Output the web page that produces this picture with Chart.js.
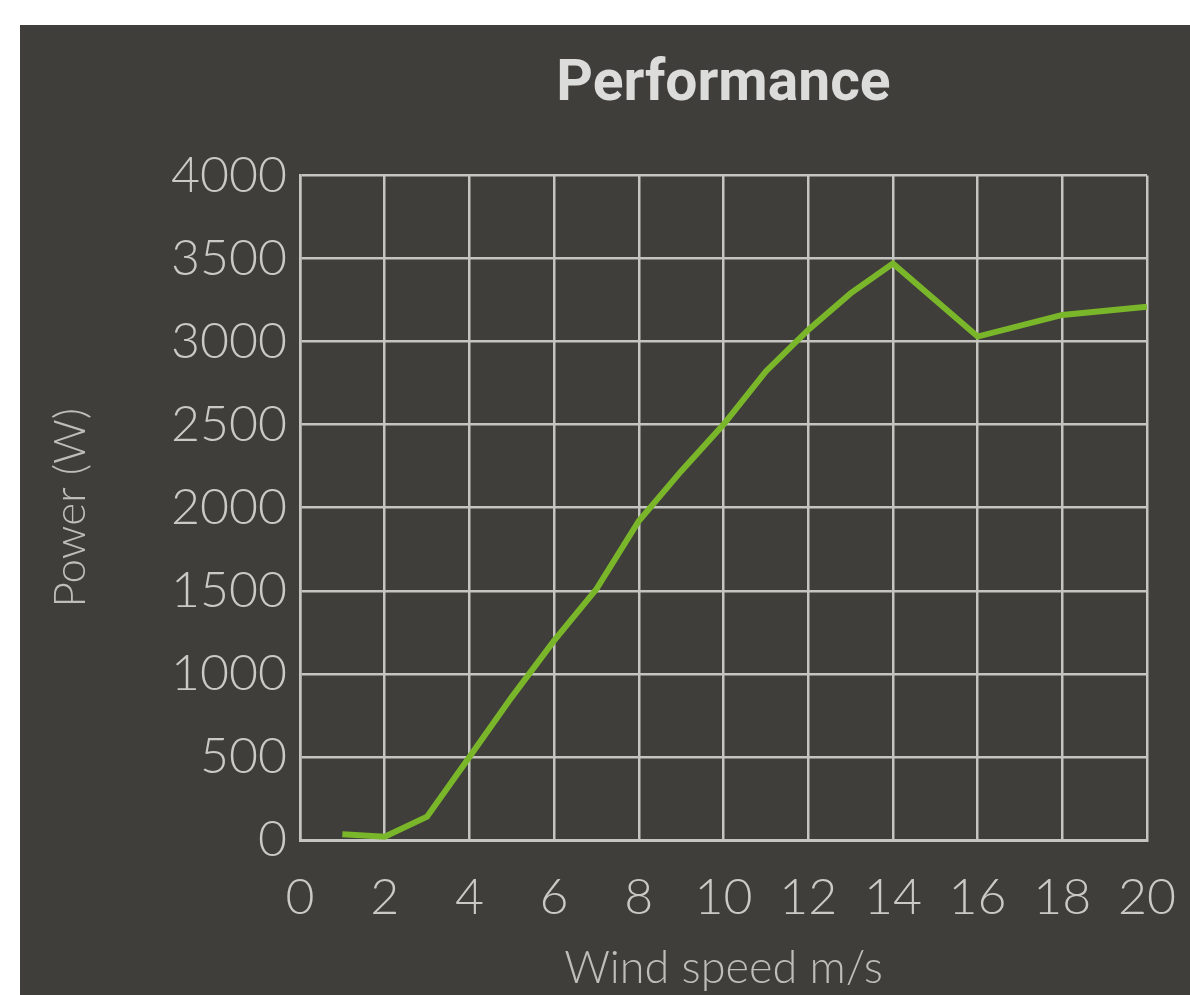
<!DOCTYPE html>
<html>
<head>
<meta charset="utf-8">
<script src="https://cdn.jsdelivr.net/npm/chart.js@4/dist/chart.umd.min.js"></script>
<style>
  html, body { margin: 0; padding: 0; background: #ffffff; }
  #panel { position: absolute; left: 20px; top: 25px; width: 1170px; height: 970px; background: #403e3a; }
</style>
</head>
<body>
<div id="panel"><canvas id="c"></canvas></div>
<script>
const windSpeed = [1, 2, 3, 4, 5, 6, 7, 8, 9, 10, 11, 12, 13, 14, 16, 18, 20];
const power     = [35, 20, 140, 500, 860, 1200, 1510, 1920, 2220, 2500, 2820, 3070, 3290, 3470, 3030, 3160, 3210];
const xTickStep = 2;
const yTickStep = 500;
const chartTitle = 'Performance';
const xTitle = 'Wind speed m/s';
const yTitle = 'Power (W)';

const gridColor = '#c4c4c0';
const tickColor = '#c9c9c5';

new Chart(document.getElementById('c'), {
  type: 'line',
  data: {
    datasets: [{
      data: windSpeed.map((x, i) => ({ x: x, y: power[i] })),
      borderColor: '#7ab62a',
      borderWidth: 6,
      pointRadius: 0,
      tension: 0,
      fill: false
    }]
  },
  options: {
    responsive: true,
    maintainAspectRatio: false,
    animation: false,
    layout: { padding: { top: 0, left: 0, right: 0, bottom: 0 } },
    plugins: {
      legend: { display: false },
      tooltip: { enabled: false },
      title: {
        display: true,
        text: chartTitle,
        fullSize: false,
        color: '#dcdcda',
        font: { family: 'Roboto', weight: 'bold', size: 57, lineHeight: 1.2 },
        padding: { top: 27, bottom: 55 }
      }
    },
    scales: {
      x: {
        type: 'linear',
        min: 0, max: 20,
        ticks: { stepSize: xTickStep, color: tickColor, padding: 28, maxRotation: 0,
                 callback: (v) => String(v),
                 font: { family: 'Lato', weight: 300, size: 50, lineHeight: 1.2 } },
        grid: { color: gridColor, lineWidth: 2.5, drawTicks: false },
        border: { color: gridColor, width: 3 },
        title: { display: true, text: xTitle, color: '#bdbdb9',
                 font: { family: 'Lato', weight: 300, size: 45, lineHeight: 1 },
                 padding: { top: 0, bottom: 4 } },
        afterFit: (s) => { s.height = 155; s.paddingRight = 43; s.paddingLeft = 0; }
      },
      y: {
        min: 0, max: 4000,
        ticks: { stepSize: yTickStep, color: tickColor, padding: 13,
                 callback: (v) => String(v),
                 font: { family: 'Lato', weight: 300, size: 50, lineHeight: 1.2 } },
        grid: { color: gridColor, lineWidth: 2.5, drawTicks: false },
        border: { color: gridColor, width: 2.5 },
        title: { display: true, text: yTitle, color: '#bdbdb9',
                 font: { family: 'Lato', weight: 300, size: 44, lineHeight: 1.2 },
                 padding: { top: 24, bottom: 0 } },
        afterFit: (s) => { s.width = 280; }
      }
    }
  }
});
</script>
</body>
</html>
